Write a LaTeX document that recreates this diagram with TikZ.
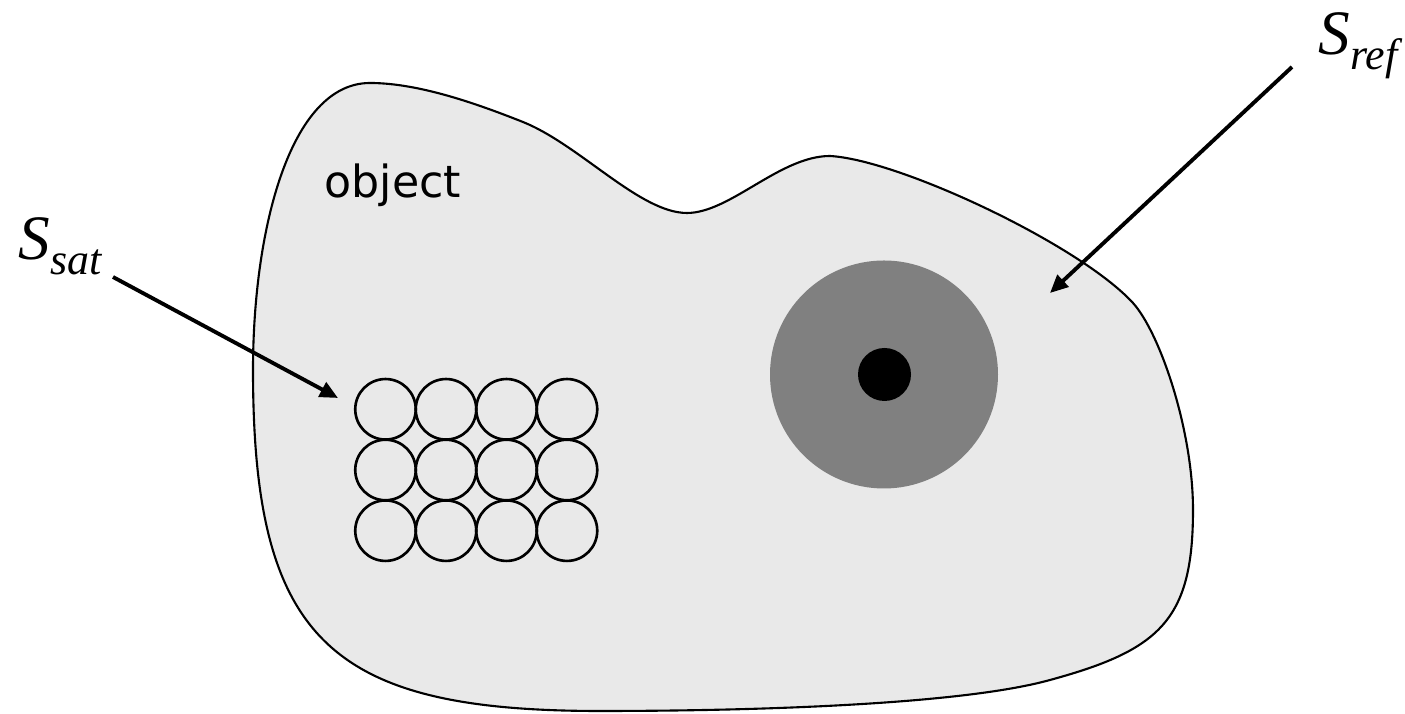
\documentclass[tikz,border=0pt]{standalone}
\usepackage{fontspec}
\newfontfamily\labelfont{Liberation Serif}
\newfontfamily\objfont{DejaVu Sans}
\usetikzlibrary{arrows.meta}

\definecolor{blobgray}{RGB}{233,233,233}
\definecolor{ringgray}{RGB}{128,128,128}

% lowered subscript for the set names
\newcommand{\setsub}[1]{\raisebox{-1.5mm}{\fontsize{12.5}{13}\selectfont #1}}

\begin{document}
\begin{tikzpicture}
    % Styles
    \tikzstyle{blob} = [draw=black, line width=0.6pt, fill=blobgray]
    \tikzstyle{cell} = [circle, draw=black, line width=0.75pt, minimum size=6.05mm, inner sep=0pt]
    \tikzstyle{arrow} = [-{Triangle[length=1.8mm, width=1.6mm]}, line width=1.1pt]
    \tikzstyle{setlabel} = [inner sep=0pt, anchor=base west, font=\labelfont\itshape\fontsize{18}{20}\selectfont]

    \useasboundingbox (0,0) rectangle (14.05,-7.14);

    % Object outline
    \draw[blob] (3.70,-0.83)
        .. controls (4.20,-0.83) and (4.80,-1.05) .. (5.23,-1.22)
        .. controls (5.80,-1.45) and (6.40,-2.13) .. (6.87,-2.13)
        .. controls (7.30,-2.13) and (7.80,-1.56) .. (8.30,-1.56)
        .. controls (9.00,-1.60) and (10.80,-2.45) .. (11.33,-3.03)
        .. controls (11.60,-3.33) and (11.93,-4.30) .. (11.93,-5.10)
        .. controls (11.93,-6.20) and (11.60,-6.50) .. (10.50,-6.80)
        .. controls (9.60,-7.05) and (7.50,-7.11) .. (6.00,-7.11)
        .. controls (3.30,-7.11) and (2.53,-6.40) .. (2.53,-3.70)
        .. controls (2.53,-2.30) and (2.90,-0.83) .. (3.70,-0.83) -- cycle;
    \node[anchor=base west, inner sep=0pt, font=\objfont\fontsize{12.6}{14}\selectfont] (obj) at (3.24,-1.98) {object};

    % Saturated spot
    \fill[ringgray] (8.84,-3.745) circle (1.14);
    \fill[black] (8.845,-3.745) circle (0.265);
    \coordinate (refTip) at (10.50,-2.93);

    % Cell grid
    \foreach \i in {0,1,2} {
        \foreach \j in {0,1,2,3} {
            \node[cell] (c-\i-\j) at (3.855+0.605*\j, -4.093-0.607*\i) {};
        }
    }
    \coordinate (satTip) at (3.38,-3.98);

    % Labels
    \node[setlabel] (ssat) at (0.18,-2.60) {S\setsub{sat}};
    \node[setlabel] (sref) at (13.18,-0.55) {S\setsub{ref}};
    \coordinate (satFrom) at (1.13,-2.77);
    \coordinate (refFrom) at (12.92,-0.67);

    % Arrows
    \draw[arrow] (satFrom) -- (satTip);
    \draw[arrow] (refFrom) -- (refTip);
\end{tikzpicture}
\end{document}
